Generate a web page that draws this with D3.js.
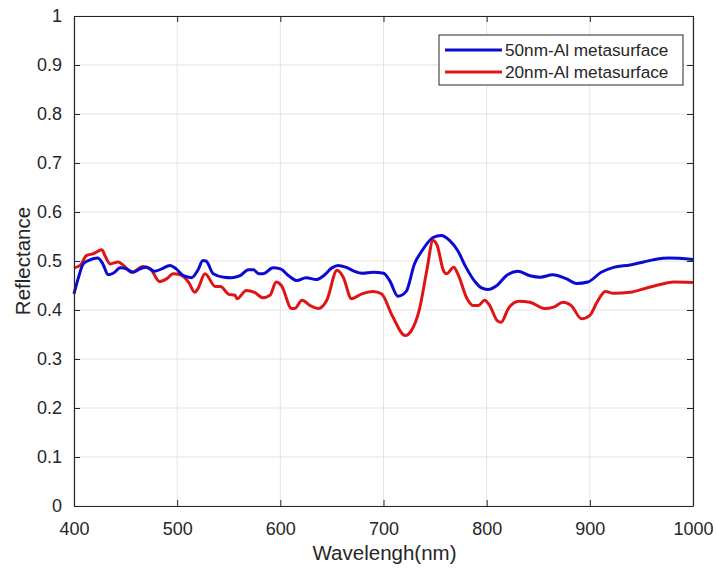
<!DOCTYPE html>
<html>
<head>
<meta charset="utf-8">
<script src="https://cdn.jsdelivr.net/npm/d3@7"></script>
<style>
  body { margin: 0; background: #fff; }
  text { font-family: "Liberation Sans", Arial, sans-serif; fill: #262626; }
</style>
</head>
<body>
<script>
// wavelength (nm) / reflectance
var wl50 = [400, 404, 409, 415, 423, 428, 433, 438, 445, 451, 457, 464, 470, 478, 485, 493, 499, 506, 514, 520, 525, 528, 535, 545, 553, 561,
  569, 574, 579, 583, 593, 600, 608, 616, 625, 635, 642, 650, 656, 664, 672, 680, 690, 700, 706, 714, 722, 730, 737, 742,
  748, 756, 764, 772, 780, 789, 795, 801, 810, 819, 830, 842, 852, 864, 877, 887, 898, 911, 923, 939, 952, 963, 977, 1000];
var r50 = [0.433, 0.464, 0.494, 0.502, 0.506, 0.494, 0.472, 0.475, 0.486, 0.484, 0.477, 0.484, 0.487, 0.479, 0.484, 0.491, 0.484, 0.470, 0.466, 0.481, 0.501, 0.500, 0.474, 0.467, 0.466, 0.470,
  0.482, 0.482, 0.474, 0.474, 0.486, 0.484, 0.470, 0.460, 0.466, 0.462, 0.470, 0.486, 0.491, 0.487, 0.479, 0.475, 0.477, 0.475, 0.460, 0.428, 0.438, 0.494, 0.520, 0.535,
  0.548, 0.552, 0.542, 0.521, 0.487, 0.457, 0.445, 0.442, 0.450, 0.470, 0.479, 0.470, 0.467, 0.472, 0.464, 0.454, 0.457, 0.477, 0.487, 0.492, 0.498, 0.503, 0.506, 0.503];

var wl20 = [400, 406, 412, 419, 427, 430, 435, 443, 448, 456, 467, 474, 483, 490, 496, 503, 511, 517, 520, 527, 537, 542, 550, 556, 558,
  567, 575, 583, 590, 596, 601, 611, 614, 621, 629, 637, 645, 655, 661, 669, 679, 690, 698, 709, 721, 727, 735, 742,
  748, 752, 758, 761, 768, 772, 781, 787, 792, 798, 803, 810, 814, 821, 831, 842, 856, 865, 874, 882, 892, 900, 907, 915,
  923, 939, 955, 968, 981, 1000];
var r20 = [0.486, 0.491, 0.511, 0.515, 0.523, 0.511, 0.494, 0.498, 0.491, 0.477, 0.489, 0.484, 0.458, 0.464, 0.474, 0.472, 0.457, 0.436, 0.443, 0.474, 0.448, 0.448, 0.432, 0.430, 0.423,
  0.440, 0.436, 0.425, 0.430, 0.457, 0.450, 0.403, 0.403, 0.420, 0.409, 0.403, 0.420, 0.481, 0.467, 0.423, 0.433, 0.438, 0.433, 0.386, 0.348, 0.358, 0.403, 0.481,
  0.542, 0.532, 0.481, 0.474, 0.487, 0.474, 0.423, 0.409, 0.409, 0.420, 0.409, 0.379, 0.375, 0.403, 0.418, 0.416, 0.403, 0.406, 0.416, 0.409, 0.382, 0.389, 0.416, 0.438,
  0.434, 0.436, 0.445, 0.452, 0.457, 0.456];

var seriesNames = ["50nm-Al metasurface", "20nm-Al metasurface"];
var seriesColors = ["#0a0ad2", "#e01414"];
var xTicks = [400, 500, 600, 700, 800, 900, 1000];
var yTicks = [0, 0.1, 0.2, 0.3, 0.4, 0.5, 0.6, 0.7, 0.8, 0.9, 1];

var W = 716, H = 570;
var m = {left: 74, right: 23, top: 16, bottom: 64};

var svg = d3.select("body").append("svg")
    .attr("width", W)
    .attr("height", H);

var x = d3.scaleLinear().domain([400, 1000]).range([m.left, W - m.right]);
var y = d3.scaleLinear().domain([0, 1]).range([H - m.bottom, m.top]);

// grid
var grid = svg.append("g");
grid.selectAll(".gx").data(xTicks).enter().append("line")
    .attr("x1", function(d) { return x(d); })
    .attr("x2", function(d) { return x(d); })
    .attr("y1", y(0)).attr("y2", y(1))
    .attr("stroke", "#e3e3e3").attr("stroke-width", 1);
grid.selectAll(".gy").data(yTicks).enter().append("line")
    .attr("y1", function(d) { return y(d); })
    .attr("y2", function(d) { return y(d); })
    .attr("x1", x(400)).attr("x2", x(1000))
    .attr("stroke", "#e3e3e3").attr("stroke-width", 1);

// lines
var line = d3.line()
    .x(function(d) { return x(d[0]); })
    .y(function(d) { return y(d[1]); })
    .curve(d3.curveMonotoneX);

var series = [d3.zip(wl50, r50), d3.zip(wl20, r20)];
// red drawn first so blue is on top where they cross
[1, 0].forEach(function(i) {
    svg.append("path")
        .datum(series[i])
        .attr("fill", "none")
        .attr("stroke", seriesColors[i])
        .attr("stroke-width", 3)
        .attr("stroke-linejoin", "round")
        .attr("d", line);
});

// axes (ticks inside, box on)
var fmt = function(d) { return d3.format("~g")(d); };
var axB = svg.append("g").attr("transform", "translate(0," + y(0) + ")")
    .call(d3.axisBottom(x).tickValues(xTicks).tickSizeInner(-6).tickSizeOuter(0).tickPadding(16).tickFormat(fmt));
var axL = svg.append("g").attr("transform", "translate(" + x(400) + ",0)")
    .call(d3.axisLeft(y).tickValues(yTicks).tickSizeInner(-6).tickSizeOuter(0).tickPadding(12).tickFormat(fmt));
var axT = svg.append("g").attr("transform", "translate(0," + y(1) + ")")
    .call(d3.axisTop(x).tickValues(xTicks).tickSizeInner(-6).tickSizeOuter(0).tickFormat(""));
var axR = svg.append("g").attr("transform", "translate(" + x(1000) + ",0)")
    .call(d3.axisRight(y).tickValues(yTicks).tickSizeInner(-6).tickSizeOuter(0).tickFormat(""));

[axB, axL, axT, axR].forEach(function(a) {
    a.select(".domain").attr("stroke", "#262626").attr("stroke-width", 1.2);
    a.selectAll(".tick line").attr("stroke", "#262626");
    a.selectAll(".tick text").style("font-size", "18px")
        .attr("fill", "#262626").style("font-family", "'Liberation Sans', Arial, sans-serif");
});

// axis titles
svg.append("text")
    .attr("x", (x(400) + x(1000)) / 2 + 1)
    .attr("y", 560)
    .attr("text-anchor", "middle")
    .style("font-size", "20.5px")
    .text("Wavelengh(nm)");
svg.append("text")
    .attr("transform", "translate(30," + (y(0.5)) + ") rotate(-90)")
    .attr("text-anchor", "middle")
    .style("font-size", "20.5px")
    .text("Reflectance");

// legend
var lg = svg.append("g").attr("transform", "translate(439,35)");
lg.append("rect")
    .attr("width", 244).attr("height", 50)
    .attr("fill", "#fff").attr("stroke", "#262626").attr("stroke-width", 1);
seriesNames.forEach(function(name, i) {
    var yy = 15 + i * 22;
    lg.append("line")
        .attr("x1", 6).attr("x2", 63)
        .attr("y1", yy).attr("y2", yy)
        .attr("stroke", seriesColors[i]).attr("stroke-width", 3);
    lg.append("text")
        .attr("x", 66).attr("y", yy)
        .attr("dy", "0.35em")
        .style("font-size", "17.2px")
        .text(name);
});
</script>
</body>
</html>
